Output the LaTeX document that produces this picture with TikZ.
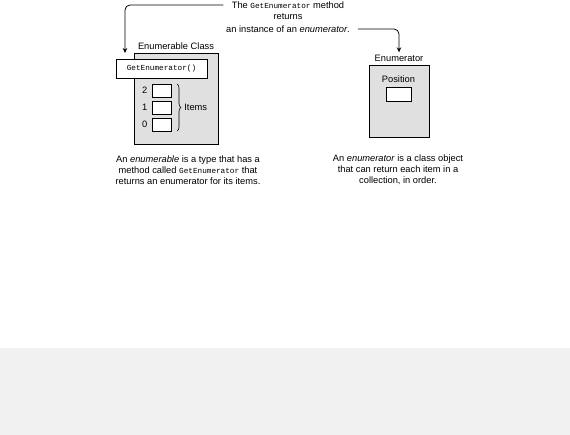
\documentclass[tikz,border=0pt]{standalone}
\usepackage{fontspec}
\setmainfont{Liberation Sans}
\setmonofont{Liberation Mono}
\usetikzlibrary{arrows.meta,decorations.pathreplacing}
\definecolor{boxgray}{RGB}{224,224,224}
\definecolor{bandgray}{RGB}{241,241,241}
\tikzset{
  txt/.style={font=\fontsize{9.3}{11}\selectfont, inner sep=0pt},
  codetxt/.style={font=\fontsize{7.7}{9}\selectfont\ttfamily},
  graybox/.style={draw, fill=boxgray, inner sep=0pt},
  whitebox/.style={draw, fill=white, inner sep=0pt},
  callout/.style={-{Stealth[length=5pt,width=4.5pt]}, rounded corners=5pt}
}
\begin{document}
\begin{tikzpicture}[x=1pt,y=-1pt,line width=0.8pt]
    \useasboundingbox (0,0) rectangle (570,435);
    \fill[bandgray] (0,348) rectangle (570,435);
    \node[txt] (note1) at (288,5) {The \texttt{\fontsize{7.7}{9}\selectfont GetEnumerator} method};
    \node[txt] (note2) at (288,17) {returns};
    \node[txt] (note3) at (288,29) {an instance of an \textit{enumerator}.};
    \node[graybox, minimum width=84pt, minimum height=91pt] (enumclass) at (176,98.5) {};
    \node[txt, above=3pt] (classlbl) at (enumclass.north) {Enumerable Class};
    \node[whitebox, codetxt, minimum width=91pt, minimum height=19pt] (getenum) at (161.5,68.5) {GetEnumerator()};
    \node[whitebox, minimum width=19pt, minimum height=13pt] (item2) at (161.5,90.5) {};
    \node[whitebox, minimum width=19pt, minimum height=13pt] (item1) at (161.5,107.5) {};
    \node[whitebox, minimum width=19pt, minimum height=13pt] (item0) at (161.5,124.5) {};
    \node[txt, left=4pt] (idx2) at (item2.west) {2};
    \node[txt, left=4pt] (idx1) at (item1.west) {1};
    \node[txt, left=4pt] (idx0) at (item0.west) {0};
    \draw[line width=0.6pt, decorate, decoration={brace, amplitude=4pt}] (177,84) -- (177,131);
    \node[txt, anchor=west] (itemslbl) at (184,107.5) {Items};
    \node[graybox, minimum width=60pt, minimum height=72pt] (enumtr) at (399,101) {};
    \node[txt, above=3pt] (enumlbl) at (enumtr.north) {Enumerator};
    \node[txt] (poslbl) at (398.5,79) {Position};
    \node[whitebox, minimum width=25pt, minimum height=14pt] (posbox) at (398.5,94) {};
    \coordinate (lefttip) at (125,53);
    \draw[callout, shorten <=8pt] (note1.west) -| (lefttip);
    \draw[callout, shorten <=8pt, shorten >=2pt] (note3.east) -| (enumlbl.north);
    \node[txt, align=center] (leftnote) at (188,170) {An \textit{enumerable} is a type that has a\\method called \texttt{\fontsize{7.7}{9}\selectfont GetEnumerator} that\\returns an enumerator for its items.};
    \node[txt, align=center] (rightnote) at (398,170) {An \textit{enumerator} is a class object\\that can return each item in a\\collection, in order.};
\end{tikzpicture}
\end{document}
